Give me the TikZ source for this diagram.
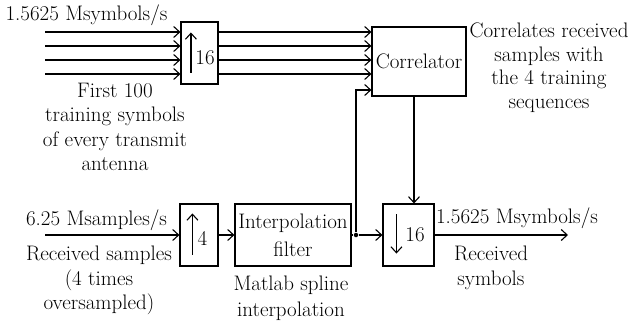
\documentclass[tikz,border=0pt]{standalone}
\usepackage{fontspec}
\usepackage{tikz}
\usetikzlibrary{arrows.meta}

\begin{document}
\begin{tikzpicture}[x=1pt,y=-1pt,line width=1.1pt,>={Straight Barb[length=6pt,width=11pt]}]
	\tikzstyle{every node}+=[inner sep=0pt]
	\tikzstyle{blk}=[draw, rectangle, line width=1.1pt]
	\tikzstyle{txt}=[align=center, font=\fontsize{21}{24.5}\selectfont]
	\useasboundingbox (0,0) rectangle (630,324);
	% blocks
	\node [blk, minimum width=37pt, minimum height=62pt] (up16) at (199.5,53) {};
	\node [blk, txt, minimum width=94pt, minimum height=69pt] (corr) at (419,61.5) {Correlator};
	\node [blk, minimum width=38pt, minimum height=62pt] (up4) at (199,235) {};
	\node [blk, txt, font=\fontsize{21}{28}\selectfont, minimum width=116pt, minimum height=62pt] (interp) at (293,235) {Interpolation\\filter};
	\node [blk, minimum width=51pt, minimum height=62pt] (down16) at (408.5,235) {};
	\node [circle, fill, minimum size=4.5pt] (jn) at (356,235) {};
	% rate factors
	\node [txt] (up16f) at (205,57.5) {16};
	\node [txt] (up4f) at (202.5,238) {4};
	\node [txt] (down16f) at (415,234.5) {16};
	\draw [->] ([shift={(10.5,-12)}]up16.south west) -- ([shift={(10.5,11)}]up16.north west);
	\draw [->] ([shift={(13,-12)}]up4.south west) -- ([shift={(13,10)}]up4.north west);
	\draw [->] ([shift={(14,11)}]down16.north west) -- ([shift={(14,-13)}]down16.south west);
	% training symbols
	\foreach \y [count=\i] in {32,46,60,74} {
		\coordinate (in\i) at (45,\y);
		\draw [->] (in\i) -- (up16.west |- in\i);
		\draw [->] (up16.east |- in\i) -- (corr.west |- in\i);
	}
	% received samples
	\coordinate (rxin) at (45,235);
	\coordinate (rxout) at (568,235);
	\draw [->] (rxin) -- (up4.west);
	\draw [->] (up4.east) -- (interp.west);
	\draw (interp.east) -- (jn);
	\draw [->] (jn) -- (down16.west);
	\draw [->] (jn) |- (corr.west |- 0,90);
	\draw [->] (corr.south -| 414,0) -- (down16.north -| 414,0);
	\draw [->] (down16.east) -- (rxout);
	% labels
	\node [txt, anchor=base] (rate1) at (86.5,20) {1.5625 Msymbols/s};
	\node [txt, anchor=north] (trn) at (115,82.5) {First 100\\training symbols\\of every transmit\\antenna};
	\node [txt, font=\fontsize{21}{23.5}\selectfont, anchor=north] (cdesc) at (549,22.4) {Correlates received\\samples with\\the 4 training\\sequences};
	\node [txt, anchor=base] (rate2) at (96.5,225) {6.25 Msamples/s};
	\node [txt, anchor=north] (rxdesc) at (99,245.4) {Received samples\\(4 times\\oversampled)};
	\node [txt, font=\fontsize{21}{26}\selectfont, anchor=north] (mdesc) at (291,275.4) {Matlab spline\\interpolation};
	\node [txt, anchor=base] (rate3) at (517,223) {1.5625 Msymbols/s};
	\node [txt, anchor=north] (symdesc) at (491,245.4) {Received\\symbols};
\end{tikzpicture}
\end{document}
